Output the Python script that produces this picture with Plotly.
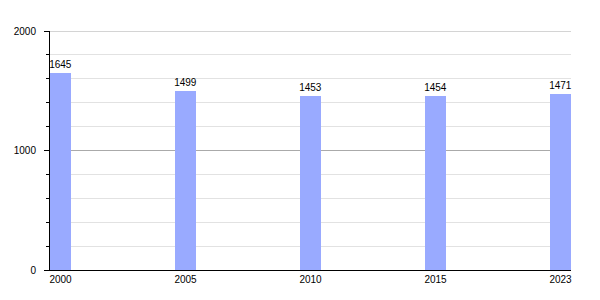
import plotly.graph_objects as go

years = ["2000", "2005", "2010", "2015", "2023"]
population = [1645, 1499, 1453, 1454, 1471]
y_ticks = [0, 1000, 2000]

fig = go.Figure()
fig.add_trace(go.Bar(
    x=years, y=population,
    marker=dict(color="#99aaff", line=dict(width=0)),
    width=0.168,
    text=[str(v) for v in population],
    textposition="outside",
    constraintext="none",
    textfont=dict(family="Liberation Sans, Arial, sans-serif", size=10, color="black"),
    cliponaxis=False,
))

fig.update_layout(
    width=600, height=300,
    margin=dict(l=50, r=29, t=31, b=30),
    paper_bgcolor="white", plot_bgcolor="white",
    font=dict(family="Liberation Sans, Arial, sans-serif", size=10, color="black"),
    showlegend=False,
    bargap=0,
    xaxis=dict(
        type="category", range=[-0.084, 4.084],
        showline=True, linecolor="black", linewidth=1,
        showgrid=False, ticks="", tickfont=dict(size=10),
        ticklabelstandoff=0,
    ),
    yaxis=dict(
        range=[0, 2000], tickvals=y_ticks,
        showline=True, linecolor="black", linewidth=1,
        showgrid=True, gridcolor="#aaaaaa", gridwidth=1,
        ticks="outside", ticklen=5, tickcolor="black",
        ticklabelstandoff=6,
        minor=dict(dtick=200, showgrid=True, gridcolor="#e2e2e2", ticks="outside", ticklen=3, tickcolor="black"),
        zeroline=False, tickfont=dict(size=10),
    ),
)
# top major gridline (hidden by plotly at the plot edge)
fig.add_shape(type="line", xref="paper", yref="y", x0=0, x1=1,
              y0=y_ticks[-1], y1=y_ticks[-1],
              line=dict(color="#aaaaaa", width=1), layer="below")

fig.write_html("out.html")
